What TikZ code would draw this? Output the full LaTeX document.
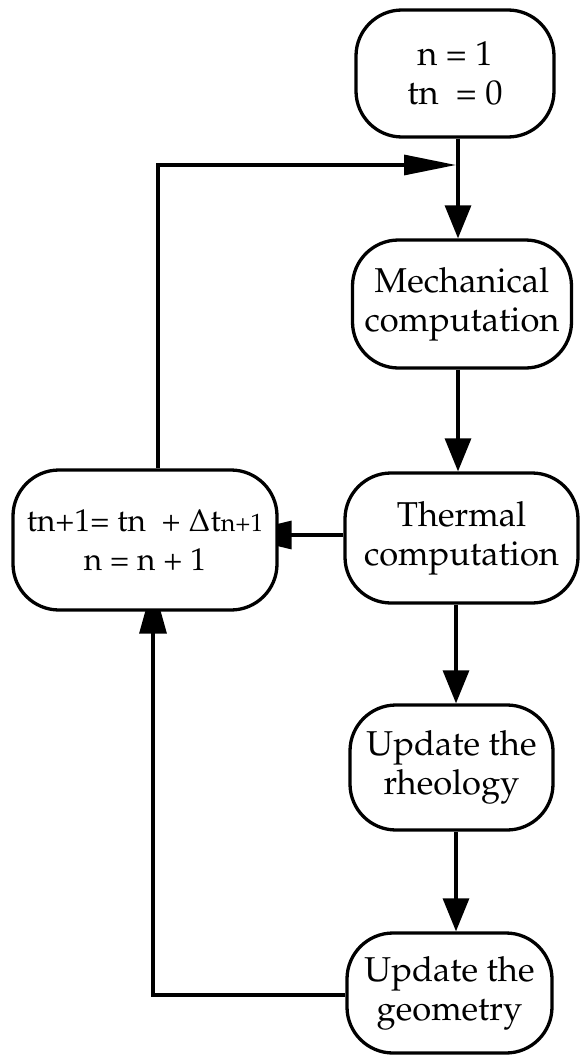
\documentclass[tikz,border=0pt]{standalone}
\usepackage[T1]{fontenc}
\usepackage{mathpazo}
\usetikzlibrary{arrows.meta,calc,backgrounds}
\begin{document}
\begin{tikzpicture}[x=1pt,y=-1pt,
  box/.style={draw,line width=3.3pt,rounded corners=46pt,fill=white,align=center,inner sep=0pt,font=\fontsize{34.5}{39}\selectfont},
  conn/.style={line width=3.2pt},
  tipdown/.style={-{Triangle[length=33pt,width=26pt]}}]
\useasboundingbox (0,0) rectangle (584,1057);
\node[box,minimum width=198pt,minimum height=127pt] (init) at (455,73.5) {n = 1\\tn\enspace= 0};
\node[box,minimum width=219pt,minimum height=128pt] (mech) at (462,304) {Mechanical\\computation};
\node[box,minimum width=233pt,minimum height=130pt] (therm) at (461.5,538) {Thermal\\computation};
\node[box,minimum width=264pt,minimum height=140pt,font=\fontsize{31.5}{39}\selectfont] (upd) at (145,540) {tn+1= tn\enspace+ $\Delta$t{\fontsize{25}{30}\selectfont n+1}\\n = n + 1};
\node[box,minimum width=203pt,minimum height=125pt] (rheo) at (451.5,767.5) {Update the\\rheology};
\node[box,minimum width=205pt,minimum height=120pt] (geom) at (449.5,993) {Update the\\geometry};
\coordinate (xa) at (458,0);
\coordinate (xb) at (456,0);
\coordinate (ya) at (0,535);
\coordinate (loopc) at (158,165);
\coordinate (looptip) at (456,165);
\coordinate (loopb) at (153,995);
\begin{scope}[on background layer]
\draw[conn,tipdown] (init.south -| xa) -- (mech.north -| xa);
\draw[conn,tipdown] (mech.south -| xa) -- (therm.north -| xa);
\draw[conn,tipdown] (therm.south -| xb) -- (rheo.north -| xb);
\draw[conn,tipdown] (rheo.south -| xb) -- (geom.north -| xb);
\draw[conn,-{Triangle[length=60pt,width=28pt]}] (therm.west |- ya) -- ($(upd.east |- ya)+(-47,0)$);
\draw[conn,-{Triangle[length=50pt,width=27pt]}] (geom.west |- loopb) -- (loopb) -- ($(upd.south -| loopb)+(0,-28)$);
\draw[conn,-{Triangle[length=52pt,width=20pt]}] (upd.north -| loopc) -- (loopc) -- (looptip);
\end{scope}
\end{tikzpicture}
\end{document}
